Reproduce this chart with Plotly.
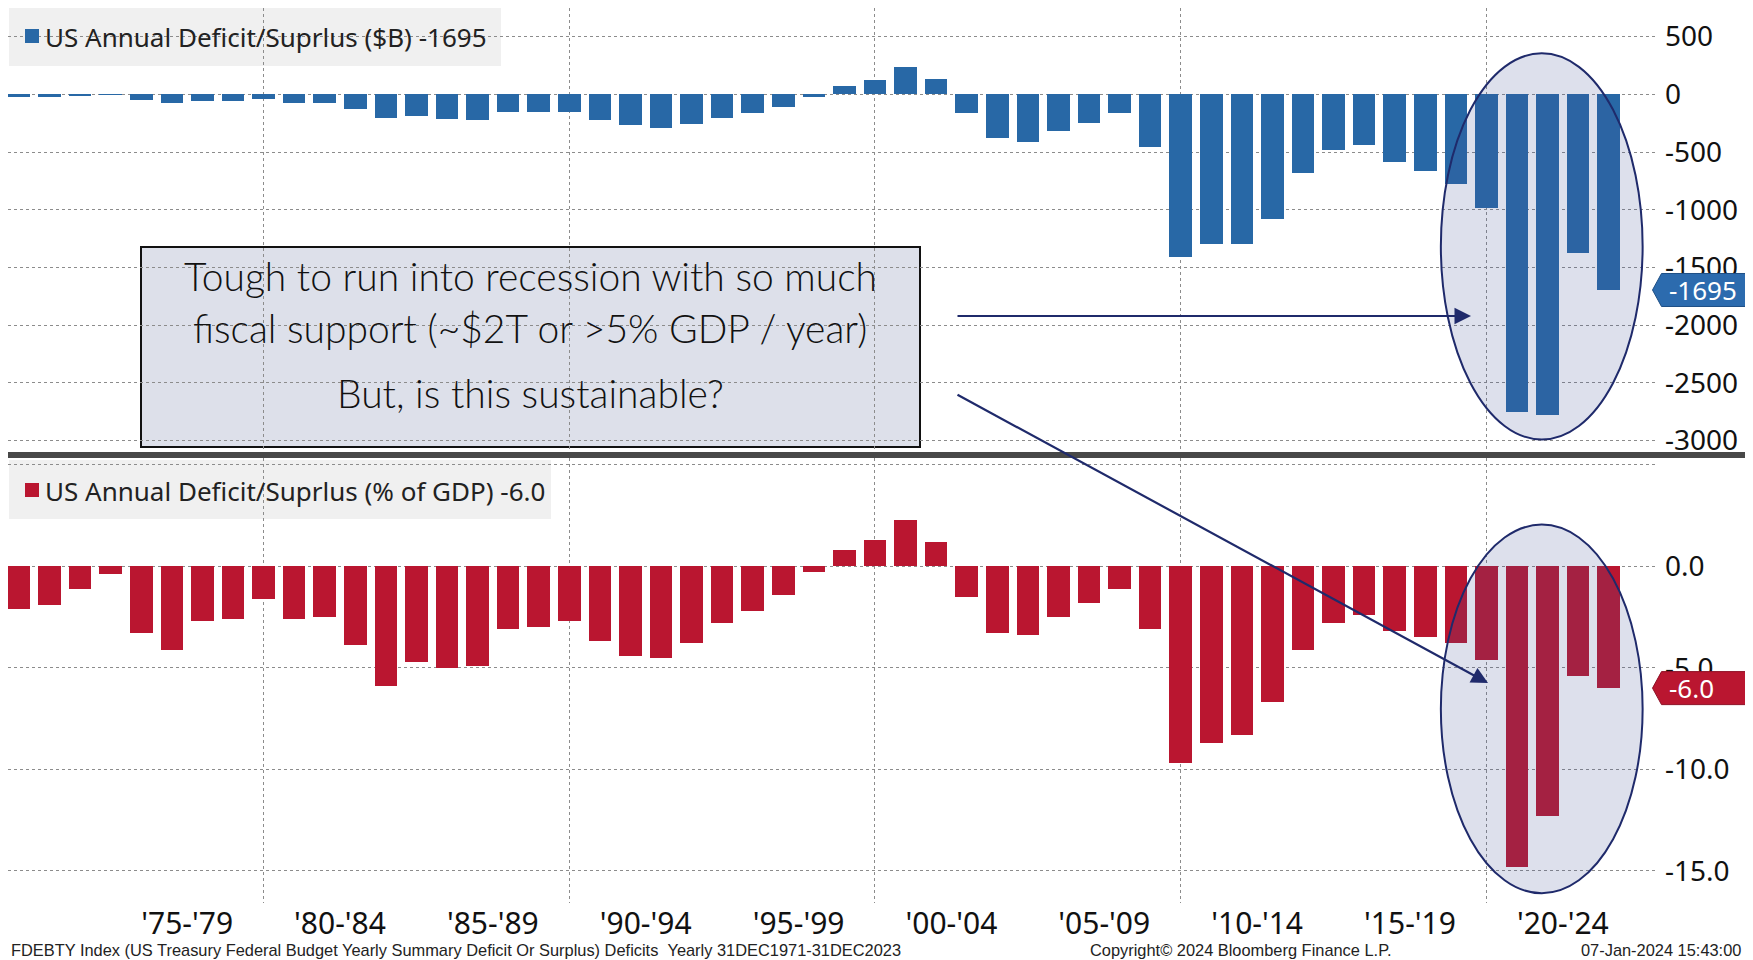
import plotly.graph_objects as go

# ---------------- data ----------------
years = list(range(1971, 2024))
deficit_bn = [-23, -23, -15, -6, -53, -74, -54, -59, -41, -74,
              -79, -128, -208, -185, -212, -221, -150, -155, -153, -221,
              -269, -290, -255, -203, -164, -107, -22, 69, 126, 236,
              128, -158, -378, -413, -318, -248, -161, -459, -1413, -1294,
              -1300, -1077, -680, -485, -442, -585, -665, -779, -984, -2750,
              -2775, -1376, -1695]
deficit_pct = [-2.1, -1.9, -1.1, -0.4, -3.3, -4.1, -2.7, -2.6, -1.6, -2.6,
               -2.5, -3.9, -5.9, -4.7, -5.0, -4.9, -3.1, -3.0, -2.7, -3.7,
               -4.4, -4.5, -3.8, -2.8, -2.2, -1.4, -0.3, 0.8, 1.3, 2.3,
               1.2, -1.5, -3.3, -3.4, -2.5, -1.8, -1.1, -3.1, -9.7, -8.7,
               -8.3, -6.7, -4.1, -2.8, -2.4, -3.2, -3.5, -3.8, -4.6, -14.8,
               -12.3, -5.4, -6.0]
span_starts = [1975, 1980, 1985, 1990, 1995, 2000, 2005, 2010, 2015, 2020]
span_labels = ["'75-'79", "'80-'84", "'85-'89", "'90-'94", "'95-'99",
               "'00-'04", "'05-'09", "'10-'14", "'15-'19", "'20-'24"]
grid_years = [1979, 1989, 1999, 2009, 2019]
top_ticks = [500, 0, -500, -1000, -1500, -2000, -2500, -3000]
bot_ticks = [5, 0, -5, -10, -15]
bot_ticktext = ["", "0.0", "-5.0", "-10.0", "-15.0"]
last_bn = deficit_bn[-1]
last_pct = deficit_pct[-1]

BLUE = "#2868A6"
RED = "#BA1630"
NAVY = "#1F2A6B"
GRID = "#8c8c8c"
SANS = "Noto Sans, Liberation Sans, sans-serif"
TICKFONT = dict(family=SANS, size=28, color="#111111")

# page body has an 8px margin: the figure sits at screen (8, 8)
OFF = 8
W, H = 1753 - OFF, 960 - OFF
PLOT_L, PLOT_R, PLOT_T, PLOT_B = 8, 1657, 8, 903      # screen coords of plot area
ML, MR, MT, MB = PLOT_L - OFF, W - (PLOT_R - OFF), PLOT_T - OFF, H - (PLOT_B - OFF)
PW, PH = PLOT_R - PLOT_L, PLOT_B - PLOT_T


def px(X):
    return (X - PLOT_L) / PW


def py(Y):
    return (PLOT_B - Y) / PH


fig = go.Figure()
fig.add_trace(go.Bar(x=years, y=deficit_bn, marker=dict(color=BLUE, line=dict(width=0)),
                     width=0.74, xaxis="x", yaxis="y", showlegend=False))
fig.add_trace(go.Bar(x=years, y=deficit_pct, marker=dict(color=RED, line=dict(width=0)),
                     width=0.74, xaxis="x2", yaxis="y2", showlegend=False))

xr = [1970.64, 2024.58]
minor = dict(tickmode="array", tickvals=grid_years, showgrid=True, gridcolor=GRID,
             griddash="3px,3px", gridwidth=1, ticks="")

fig.update_layout(
    width=W, height=H,
    margin=dict(l=ML, r=MR, t=MT, b=MB, pad=0),
    paper_bgcolor="white", plot_bgcolor="white",
    bargap=0,
    showlegend=False,
    xaxis=dict(domain=[0, 1], range=xr, anchor="y", showticklabels=False, tickvals=[],
               showgrid=False, zeroline=False, showline=False, minor=minor),
    xaxis2=dict(domain=[0, 1], range=xr, anchor="y2", matches="x",
                tickvals=[s + 1.5 for s in span_starts], ticktext=span_labels,
                ticks="", showgrid=False, zeroline=False, showline=False,
                tickfont=dict(family=SANS, size=30, color="#111111"),
                ticklabelstandoff=0, minor=minor),
    yaxis=dict(domain=[py(452), 1], range=[-3098, 747], side="right", anchor="x",
               tickvals=top_ticks, ticktext=[str(v) for v in top_ticks],
               showgrid=True, gridcolor=GRID, griddash="dot", gridwidth=1,
               zeroline=False, showline=False, ticks="", tickfont=TICKFONT,
               ticklabelstandoff=7),
    yaxis2=dict(domain=[0, py(458)], range=[-16.58, 5.33], side="right", anchor="x2",
                tickvals=bot_ticks, ticktext=bot_ticktext,
                showgrid=True, gridcolor=GRID, griddash="dot", gridwidth=1,
                zeroline=False, showline=False, ticks="", tickfont=TICKFONT,
                ticklabelstandoff=7),
)

shapes = []
# legend backgrounds
shapes.append(dict(type="rect", xref="paper", yref="paper", x0=px(9), x1=px(501), y0=py(66), y1=py(8),
                   fillcolor="#F0F0F0", line=dict(width=0), layer="below"))
shapes.append(dict(type="rect", xref="paper", yref="paper", x0=px(9), x1=px(551), y0=py(519), y1=py(460),
                   fillcolor="#F0F0F0", line=dict(width=0), layer="below"))
# legend squares
shapes.append(dict(type="rect", xref="paper", yref="paper", x0=px(25), x1=px(39), y0=py(43), y1=py(29),
                   fillcolor=BLUE, line=dict(width=0), layer="above"))
shapes.append(dict(type="rect", xref="paper", yref="paper", x0=px(25), x1=px(39), y0=py(497), y1=py(483),
                   fillcolor=RED, line=dict(width=0), layer="above"))
# text box
shapes.append(dict(type="rect", xref="paper", yref="paper", x0=px(141), x1=px(920), y0=py(447), y1=py(247),
                   fillcolor="#DDE0EA", line=dict(color="#111111", width=2), layer="below"))
# divider
shapes.append(dict(type="rect", xref="paper", yref="paper", x0=px(OFF), x1=px(1760), y0=py(458), y1=py(452),
                   fillcolor="#484848", line=dict(width=0), layer="above"))
# ellipses
shapes.append(dict(type="circle", xref="x", yref="y", x0=2017.51, x1=2024.11, y0=-2990, y1=355,
                   fillcolor="rgba(68,84,150,0.18)", line=dict(color=NAVY, width=2), layer="above"))
shapes.append(dict(type="circle", xref="x2", yref="y2", x0=2017.51, x1=2024.11, y0=-16.1, y1=2.05,
                   fillcolor="rgba(68,84,150,0.18)", line=dict(color=NAVY, width=2), layer="above"))
# value tags
tag_path = "M -4.5,0 L 4.5,16.5 L 92,16.5 L 92,-16.5 L 4.5,-16.5 Z"
shapes.append(dict(type="path", xref="paper", yref="y", xsizemode="pixel", ysizemode="pixel",
                   xanchor=1, yanchor=last_bn, path=tag_path, fillcolor="#2C6BAE",
                   line=dict(color="#1E4F85", width=1), layer="above"))
shapes.append(dict(type="path", xref="paper", yref="y2", xsizemode="pixel", ysizemode="pixel",
                   xanchor=1, yanchor=last_pct, path=tag_path, fillcolor=RED,
                   line=dict(color="#8E1024", width=1), layer="above"))
fig.update_layout(shapes=shapes)

LEGFONT = dict(family=SANS, size=26, color="#222222")
BOXFONT = dict(family="Lato, Open Sans, sans-serif", size=39, color="#111111", weight=300)
FOOT = dict(family="Liberation Sans, Arial, sans-serif", size=16.4, color="#222222")
ann = [
    dict(text=f"US Annual Deficit/Suprlus ($B) {last_bn}", xref="paper", yref="paper",
         x=px(43), y=py(37), xanchor="left", yanchor="middle", showarrow=False, font=LEGFONT),
    dict(text=f"US Annual Deficit/Suprlus (% of GDP) {last_pct:.1f}", xref="paper", yref="paper",
         x=px(43), y=py(491), xanchor="left", yanchor="middle", showarrow=False, font=LEGFONT),
    dict(text="Tough to run into recession with so much", xref="paper", yref="paper",
         x=px(530), y=py(276), xanchor="center", yanchor="middle", showarrow=False, font=BOXFONT),
    dict(text="fiscal support (~$2T or >5% GDP / year)", xref="paper", yref="paper",
         x=px(530), y=py(328), xanchor="center", yanchor="middle", showarrow=False, font=BOXFONT),
    dict(text="But, is this sustainable?", xref="paper", yref="paper",
         x=px(530), y=py(393), xanchor="center", yanchor="middle", showarrow=False, font=BOXFONT),
    # arrows
    dict(text="", xref="paper", yref="paper", x=px(1471), y=py(316), ax=956 - 1471, ay=0,
         showarrow=True, arrowhead=2, arrowsize=1.5, arrowwidth=2.2, arrowcolor=NAVY, standoff=0),
    dict(text="", xref="paper", yref="paper", x=px(1488), y=py(683), ax=956 - 1488, ay=394 - 683,
         showarrow=True, arrowhead=2, arrowsize=1.5, arrowwidth=2.2, arrowcolor=NAVY, standoff=0),
    # tag labels
    dict(text=str(last_bn), xref="paper", yref="y", x=px(1703), y=last_bn, xanchor="center",
         yanchor="middle", showarrow=False, font=dict(family=SANS, size=26, color="white")),
    dict(text=f"{last_pct:.1f}", xref="paper", yref="y2", x=px(1692), y=last_pct, xanchor="center",
         yanchor="middle", showarrow=False, font=dict(family=SANS, size=26, color="white")),
    # footer
    dict(text="FDEBTY Index (US Treasury Federal Budget Yearly Summary Deficit Or Surplus) Deficits&nbsp;&nbsp;Yearly 31DEC1971-31DEC2023",
         xref="paper", yref="paper", x=px(9), y=py(950), xanchor="left", yanchor="middle",
         showarrow=False, font=FOOT),
    dict(text="Copyright\u00a9 2024 Bloomberg Finance L.P.", xref="paper", yref="paper",
         x=px(1088), y=py(950), xanchor="left", yanchor="middle", showarrow=False, font=FOOT),
    dict(text="07-Jan-2024 15:43:00", xref="paper", yref="paper",
         x=px(1743), y=py(950), xanchor="right", yanchor="middle", showarrow=False, font=FOOT),
]
fig.update_layout(annotations=ann)

fig.write_html("out.html")
